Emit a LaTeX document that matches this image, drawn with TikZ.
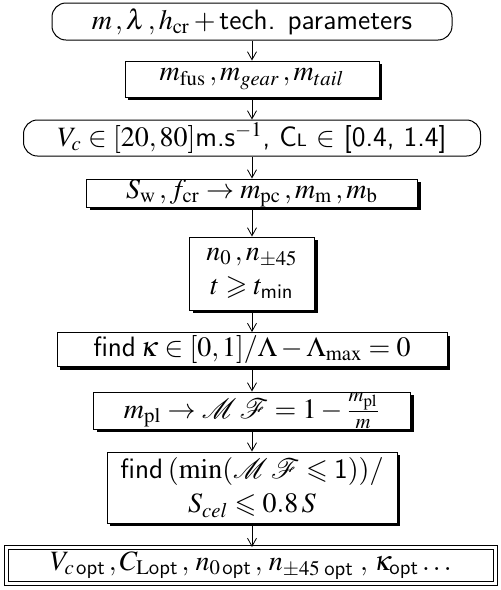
\documentclass[tikz,border=0pt]{standalone}
\usepackage{amsmath}
\usepackage{mathptmx}
\usepackage{amssymb}
\usetikzlibrary{arrows.meta,shadows}
\newcommand{\sfx}[1]{\text{\sffamily #1}}
\begin{document}
\begin{tikzpicture}[x=0.5pt,y=-0.5pt,
  box/.style={draw, line width=0.5pt, fill=white, inner sep=0pt, align=center,
    font=\fontsize{14}{15}\selectfont},
  shad/.style={box, drop shadow={shadow xshift=1.7pt, shadow yshift=-1.7pt, opacity=1, fill=black}},
  pill/.style={box, rounded corners=7pt},
  dbl/.style={box, double, double distance=1.3pt},
  arr/.style={-{Straight Barb[length=4pt,width=4.5pt]}, line width=0.4pt}]
\useasboundingbox (0,0) rectangle (500,590);

\node[pill, minimum width=200pt, minimum height=18.5pt] (n1) at (252,21.5)
  {$m\,,\lambda\,,h_{\mathrm{cr}}+{}$\textsf{tech. parameters}};
\node[shad, minimum width=127pt, minimum height=18pt] (n2) at (252,79)
  {$m_{\mathrm{fus}}\,,m_{gear}\,,m_{tail}$};
\node[pill, minimum width=228.5pt, minimum height=18pt] (n3) at (252,138)
  {$V_c\in[20,80]$\textsf{m.s}$^{-1}$\textsf{, C{\small L}} $\in$ \textsf{[0.4, 1.4]}};
\node[shad, minimum width=165.5pt, minimum height=14pt] (n4) at (252,193)
  {$S_{\mathrm{w}}\,,f_{\mathrm{cr}}\to m_{\mathrm{pc}}\,,m_{\mathrm{m}}\,,m_{\mathrm{b}}$};
\node[shad, minimum width=62.5pt, minimum height=36.5pt] (n5) at (252,273.5)
  {$n_0\,,n_{\pm45}$\\[2pt] $t\geqslant t_{\sfx{min}}$};
\node[shad, minimum width=195pt, minimum height=17pt] (n6) at (252,349.5)
  {\textsf{find}\,$\kappa\in[0,1]/\Lambda-\Lambda_{\mathrm{max}}=0$};
\node[shad, minimum width=158.5pt, minimum height=18.5pt] (n7) at (252,410.5)
  {$m_{\mathrm{pl}}\to\mathcal{M}\,\mathcal{F}=1-\frac{m_{\mathrm{pl}}}{m}$};
\node[shad, minimum width=145pt, minimum height=35.5pt] (n8) at (252,487.5)
  {\textsf{find}\,$(\min(\mathcal{M}\,\mathcal{F}\leqslant\sfx{1}))/$\\[2pt] $S_{cel}\leqslant 0.8\,S$};
\node[dbl, minimum width=244.5pt, minimum height=18pt] (n9) at (251,565.5)
  {$V_{c\,\sfx{opt}}\,,C_{\mathrm{L}\sfx{opt}}\,,\,n_{0\,\sfx{opt}}\,,\,n_{\pm45\;\sfx{opt}}\;,\,\kappa_{\sfx{opt}}\ldots$};

\foreach \a/\b in {n1/n2,n2/n3,n3/n4,n4/n5,n5/n6,n6/n7,n7/n8,n8/n9}
  \draw[arr] (\a.south) -- (\a.south |- \b.north);
\end{tikzpicture}
\end{document}
